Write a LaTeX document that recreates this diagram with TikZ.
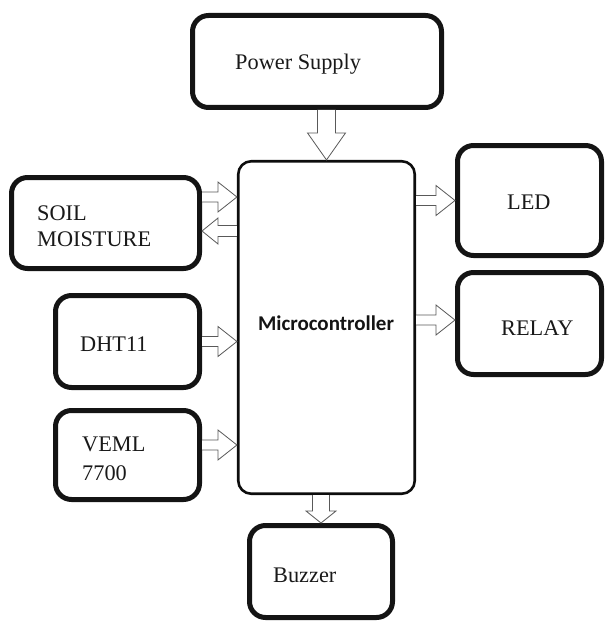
\documentclass[tikz,border=0pt]{standalone}
\usepackage{fontspec}
\setmainfont{Liberation Serif}
\newfontfamily\lblfont{Liberation Serif}
\newfontfamily\mcfont{Carlito}
\usetikzlibrary{calc}
\newcommand\blockarrow[5]{%
  \path #1 coordinate (ba-s) #2 coordinate (ba-e);
  \pgfpointdiff{\pgfpointanchor{ba-s}{center}}{\pgfpointanchor{ba-e}{center}}%
  \pgfgetlastxy{\bdx}{\bdy}%
  \pgfmathsetmacro\blen{veclen(\bdx,\bdy)}%
  \pgfmathsetmacro\bang{atan2(\bdy,\bdx)}%
  \pgfmathsetmacro\bneck{\blen-#5}%
  \begin{scope}[shift={(ba-s)},rotate=\bang]
    \draw[blockarr] (0pt,-#3pt) -- (\bneck pt,-#3pt) -- (\bneck pt,-#4pt) -- (\blen pt,0pt)
      -- (\bneck pt,#4pt) -- (\bneck pt,#3pt) -- (0pt,#3pt);
  \end{scope}}
\begin{document}
\begin{tikzpicture}[x=1pt,y=-1pt,
  box/.style={draw=black!92, line width=5pt, rounded corners=16pt, inner sep=0pt},
  mcbox/.style={draw=black!95, line width=2.6pt, rounded corners=13pt, inner sep=0pt},
  blockarr/.style={draw=black!65, line width=0.8pt, line join=miter, fill=white},
  lbl/.style={anchor=base west, inner sep=0pt, text=black!90, font=\lblfont\fontsize{22.3}{26}\selectfont}]
\useasboundingbox (0,0) rectangle (608,623);

\node[box, minimum width=249pt, minimum height=92pt] (power) at (317,61.5) {};
\node[mcbox, minimum width=176.5pt, minimum height=332.5pt] (mc) at (326.5,327.5) {};
\node[box, minimum width=188pt, minimum height=91pt] (soil) at (105.5,223) {};
\node[box, minimum width=144pt, minimum height=92pt] (dht) at (127.5,341.5) {};
\node[box, minimum width=144pt, minimum height=89pt] (veml) at (127.5,455) {};
\node[box, minimum width=144pt, minimum height=110pt] (led) at (529.5,200.5) {};
\node[box, minimum width=144pt, minimum height=102pt] (relay) at (529.5,323.5) {};
\node[box, minimum width=143pt, minimum height=92pt] (buzzer) at (321,571.5) {};

\blockarrow{(mc.north |- power.south)}{(mc.north)}{9}{19}{27}
\blockarrow{(soil.east |- 0,197)}{(mc.west |- 0,197)}{5}{15}{19}
\blockarrow{(mc.west |- 0,231)}{(soil.east |- 0,231)}{5.5}{13}{16}
\blockarrow{(dht.east)}{(mc.west |- dht.east)}{5}{15}{19}
\blockarrow{(veml.east |- 0,445)}{(mc.west |- 0,445)}{5}{15}{19}
\blockarrow{(mc.east |- led.west)}{(led.west)}{5}{15}{19}
\blockarrow{(mc.east |- 0,320)}{(relay.west |- 0,320)}{5}{15}{19}
\blockarrow{(buzzer.north |- mc.south)}{(buzzer.north)}{8.5}{15}{12}

\node[lbl] (t-power) at (235,70) {Power Supply};
\node[lbl] (t-soil1) at (37,220) {SOIL};
\node[lbl] (t-soil2) at (37,246) {MOISTURE};
\node[lbl] (t-dht) at (80,351) {DHT11};
\node[lbl] (t-veml1) at (82,451) {VEML};
\node[lbl] (t-veml2) at (82,480) {7700};
\node[lbl] (t-led) at (507,209) {LED};
\node[lbl] (t-relay) at (501,335) {RELAY};
\node[lbl] (t-buzzer) at (273,582) {Buzzer};
\node[anchor=base, inner sep=0pt, text=black!92, font=\mcfont\bfseries\fontsize{21}{25}\selectfont] (t-mc) at (326,330) {Microcontroller};
\end{tikzpicture}
\end{document}
